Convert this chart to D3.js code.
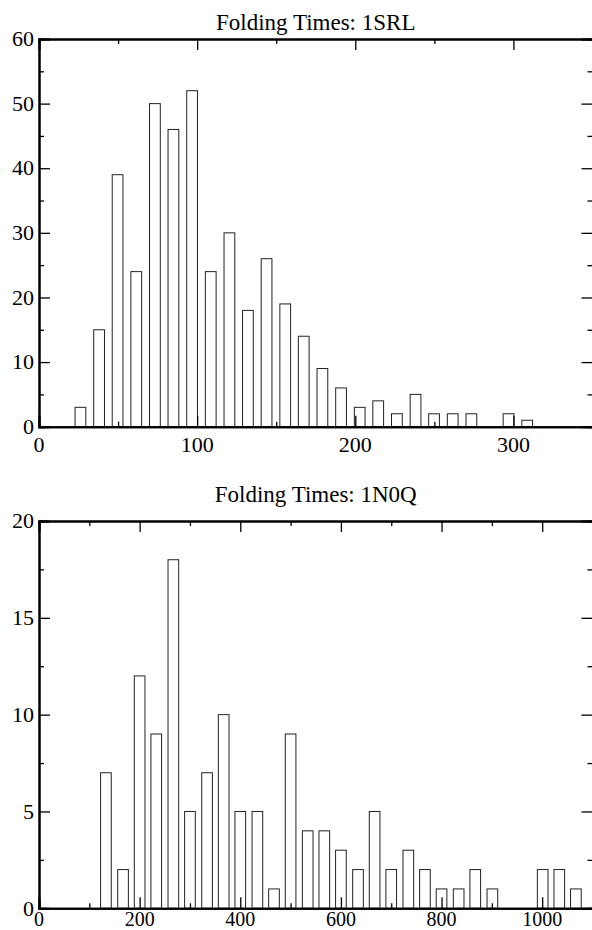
<!DOCTYPE html>
<html>
<head>
<meta charset="utf-8">
<script src="https://cdn.jsdelivr.net/npm/d3@7"></script>
<style>
  body { margin: 0; background: white; }
  svg { display: block; }
</style>
</head>
<body>
<div id="chart"></div>
<script>
// histogram of folding times, 1SRL (bin centres / counts)
const srlCenters = [26.2, 38.0, 49.7, 61.5, 73.3, 85.0, 96.8, 108.6, 120.4, 132.1, 143.9, 155.7, 167.4,
                    179.2, 191.0, 202.8, 214.5, 226.3, 238.1, 249.8, 261.6, 273.4, 285.2, 296.9, 308.7];
const srlCounts  = [3, 15, 39, 24, 50, 46, 52, 24, 30, 18, 26, 19, 14,
                    9, 6, 3, 4, 2, 5, 2, 2, 2, 0, 2, 1];

// histogram of folding times, 1N0Q
const n0qCenters = [133, 167, 200, 233, 267, 300, 334, 367, 400, 434, 467, 500, 534, 567, 600,
                    634, 667, 700, 734, 767, 800, 834, 867, 901, 934, 967, 1001, 1034, 1067];
const n0qCounts  = [7, 2, 12, 9, 18, 5, 7, 10, 5, 5, 1, 9, 4, 4, 3,
                    2, 5, 2, 3, 2, 1, 1, 2, 1, 0, 0, 2, 2, 1];

const serif = '"Liberation Serif", "Times New Roman", Times, "DejaVu Serif", serif';

var svg = d3.select('#chart')
    .append('svg')
    .attr('width', 592)
    .attr('height', 930);

drawPanel({
  title: 'Folding Times: 1SRL', titleY: 30,
  centers: srlCenters, counts: srlCounts, barW: 6.8,
  xMax: 350, xMajor: 100, xMinor: 50,
  yMax: 60, yMajor: 10, yMinor: 5,
  top: 39, bottom: 426.7, labelGap: 10, xFont: 22
});

// x labels here sit right at the bottom edge of the page, so a bit smaller
drawPanel({
  title: 'Folding Times: 1N0Q', titleY: 502,
  centers: n0qCenters, counts: n0qCounts, barW: 21.2,
  xMax: 1100, xMajor: 200, xMinor: 100,
  yMax: 20, yMajor: 5, yMinor: 2.5,
  top: 521, bottom: 908.3, labelGap: 3, xFont: 20
});

function drawPanel(p) {
  const left = 39, right = 592.5;

  var x = d3.scaleLinear().domain([0, p.xMax]).range([left, right]);
  var y = d3.scaleLinear().domain([0, p.yMax]).range([p.bottom, p.top]);

  var g = svg.append('g');

  // bars first, frame and ticks go over them
  var bins = p.centers.map((c, i) => ({ c: c, n: p.counts[i] }));
  g.selectAll('rect.bar')
    .data(bins)
    .enter()
    .append('rect')
    .attr('class', 'bar')
    .attr('x', d => x(d.c - p.barW / 2))
    .attr('width', x(p.barW) - x(0))
    .attr('y', d => y(d.n))
    .attr('height', d => y(0) - y(d.n))
    .attr('fill', 'white')
    .attr('stroke', '#222')
    .attr('stroke-width', 1);

  var xMaj = d3.range(0, p.xMax + 1e-6, p.xMajor);
  var xMin = d3.range(p.xMinor, p.xMax, p.xMajor);
  var yMaj = d3.range(0, p.yMax + 1e-6, p.yMajor);
  var yMin = d3.range(p.yMinor, p.yMax, p.yMajor);

  function addAxis(axis, tx, ty, vals, size) {
    var a = g.append('g')
      .attr('transform', 'translate(' + tx + ',' + ty + ')')
      .call(axis.tickValues(vals).tickSize(-size).tickFormat(''));
    a.select('.domain').attr('stroke', 'black').attr('stroke-width', 2);
    a.selectAll('.tick line').attr('stroke', 'black').attr('stroke-width', 1.3);
    return a;
  }

  // bottom / top
  addAxis(d3.axisBottom(x), 0, p.bottom, xMin, 5);
  addAxis(d3.axisBottom(x), 0, p.bottom, xMaj, 11);
  addAxis(d3.axisTop(x), 0, p.top, xMin, 5);
  addAxis(d3.axisTop(x), 0, p.top, xMaj, 11);
  // left / right
  addAxis(d3.axisLeft(y), left, 0, yMin, 5);
  addAxis(d3.axisLeft(y), left, 0, yMaj, 11);
  addAxis(d3.axisRight(y), right, 0, yMin, 5);
  addAxis(d3.axisRight(y), right, 0, yMaj, 11);

  // tick labels
  g.selectAll('text.xl')
    .data(xMaj)
    .enter()
    .append('text')
    .attr('class', 'xl')
    .attr('x', d => x(d))
    .attr('y', p.bottom + p.labelGap)
    .attr('dy', '0.71em')
    .attr('text-anchor', 'middle')
    .style('font-family', serif)
    .style('font-size', p.xFont + 'px')
    .text(d => d);

  g.selectAll('text.yl')
    .data(yMaj)
    .enter()
    .append('text')
    .attr('class', 'yl')
    .attr('x', left - 5)
    .attr('y', d => y(d))
    .attr('dy', '0.33em')
    .attr('text-anchor', 'end')
    .style('font-family', serif)
    .style('font-size', '22px')
    .text(d => d);

  g.append('text')
    .attr('x', (left + right) / 2)
    .attr('y', p.titleY)
    .attr('text-anchor', 'middle')
    .style('font-family', serif)
    .style('font-size', '23px')
    .text(p.title);
}
</script>
</body>
</html>
